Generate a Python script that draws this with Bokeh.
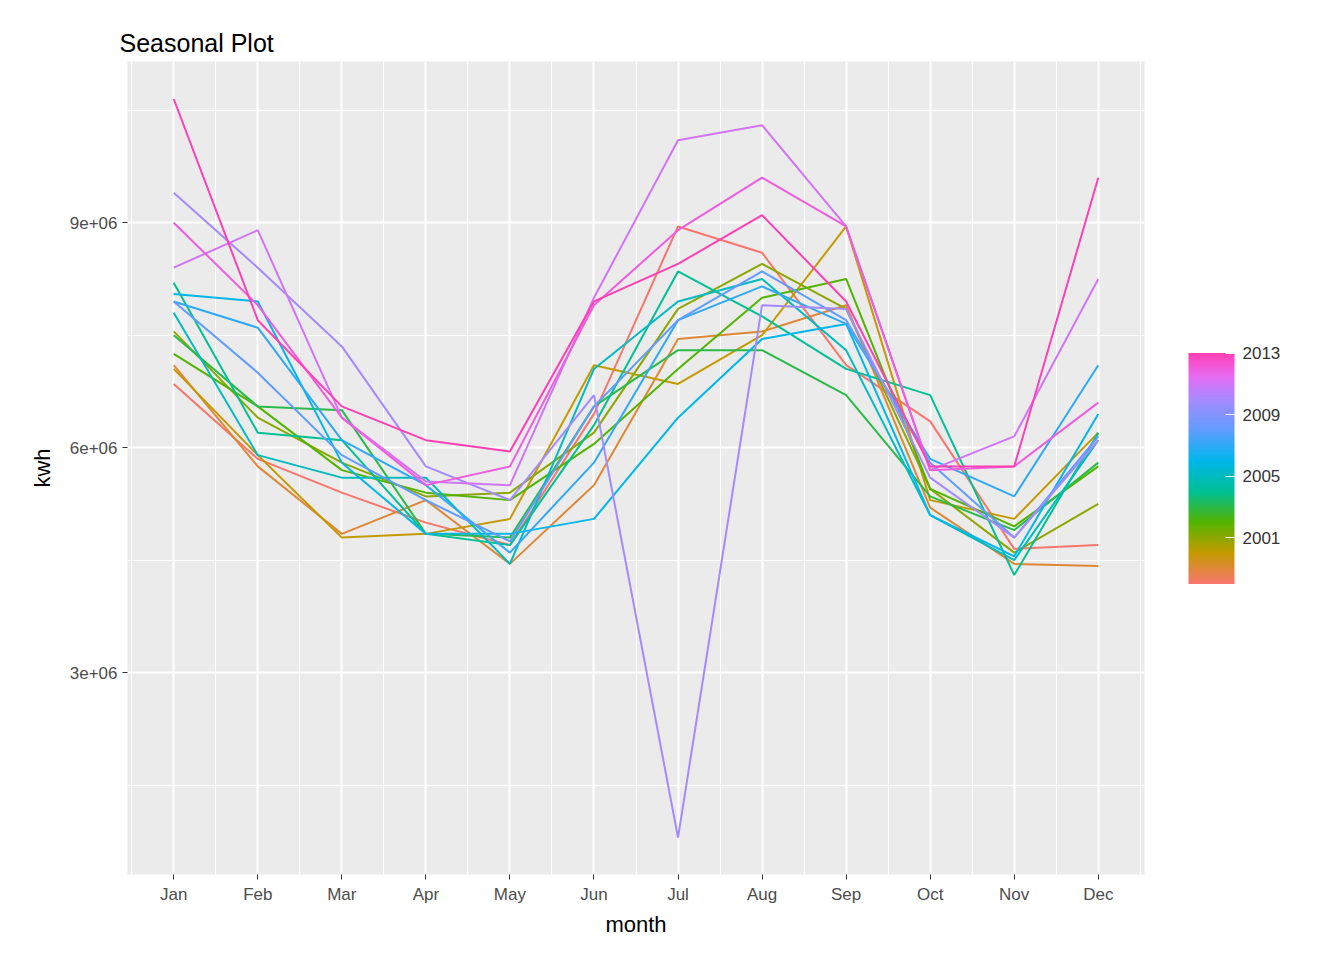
import numpy as np
from bokeh.plotting import figure
from bokeh.models import ColumnDataSource, LinearColorMapper, ColorBar, FixedTicker, Range1d
from bokeh.embed import file_html
from bokeh.resources import INLINE

months = ["Jan", "Feb", "Mar", "Apr", "May", "Jun", "Jul", "Aug", "Sep", "Oct", "Nov", "Dec"]
years = [1998, 1999, 2000, 2001, 2002, 2003, 2004, 2005, 2006, 2007, 2008, 2010, 2011, 2012, 2013]
kwh = [
    [6.85, 5.85, 5.4, 5.0, 4.7, 6.45, 8.95, 8.6, 7.1, 6.35, 4.65, 4.7],
    [7.1, 5.75, 4.85, 5.3, 4.45, 5.5, 7.45, 7.55, 7.9, 5.2, 4.45, 4.42],
    [7.05, 5.9, 4.8, 4.85, 5.05, 7.1, 6.85, 7.5, 8.95, 5.3, 5.05, 6.2],
    [7.55, 6.4, 5.8, 5.35, 5.4, 6.2, 7.85, 8.45, 7.85, 5.45, 4.6, 5.25],
    [7.25, 6.55, 5.7, 5.4, 5.3, 6.05, 7.05, 8.0, 8.25, 5.45, 4.95, 5.75],
    [7.5, 6.55, 6.5, 4.85, 4.8, 6.55, 7.3, 7.3, 6.7, 5.35, 4.9, 5.8],
    [8.2, 6.2, 6.1, 4.85, 4.7, 6.3, 8.35, 7.75, 7.05, 6.7, 4.3, 6.2],
    [7.8, 5.9, 5.6, 5.6, 4.45, 7.05, 7.95, 8.25, 7.3, 5.1, 4.5, 6.1],
    [8.05, 7.95, 5.8, 4.85, 4.85, 5.05, 6.4, 7.45, 7.65, 5.1, 4.55, 6.45],
    [7.95, 7.6, 6.1, 5.5, 4.6, 5.8, 7.7, 8.15, 7.65, 5.85, 5.35, 7.1],
    [7.95, 7.0, 5.9, 5.3, 4.75, 6.55, 7.7, 8.35, 7.7, 5.8, 4.8, 6.15],
    [9.4, 8.4, 7.35, 5.75, 5.3, 6.7, 0.8, 7.9, 7.85, 5.6, 4.8, 6.1],
    [8.4, 8.9, 6.4, 5.55, 5.5, 8.0, 10.1, 10.3, 8.95, 5.7, 6.15, 8.25],
    [9.0, 7.9, 6.4, 5.5, 5.75, 7.9, 8.9, 9.6, 8.95, 5.7, 5.75, 6.6],
    [10.65, 7.7, 6.55, 6.1, 5.95, 7.95, 8.45, 9.1, 7.95, 5.75, 5.75, 9.6],
]

# gradient anchors (position in years, colour)
anchor_years = [1998, 2000, 2002, 2004, 2006, 2008, 2010, 2011.5, 2013]
anchor_cols = ["#F8766D", "#C49A00", "#53B400", "#00C094", "#00B6EB",
               "#619CFF", "#A58AFF", "#E76BF3", "#FF40B4"]

lo, hi = 1998, 2013


def rgb(h):
    return [int(h[i:i + 2], 16) for i in (1, 3, 5)]


ar = np.array([rgb(c) for c in anchor_cols], dtype=float)
t = np.linspace(lo, hi, 256)
palette = ["#%02x%02x%02x" % tuple(int(round(np.interp(v, anchor_years, ar[:, k]))) for k in range(3))
           for v in t]
mapper = LinearColorMapper(palette=palette, low=lo, high=hi)

p = figure(width=1327, height=946, output_backend="svg", toolbar_location=None,
           x_range=Range1d(0.45, 12.55), y_range=Range1d(307000, 11150000),
           min_border_left=127, min_border_top=61, min_border_right=170, min_border_bottom=72)
p.background_fill_color = "#EBEBEB"
p.outline_line_color = None
p.border_fill_color = "white"

for yr, vals in zip(years, kwh):
    col = palette[int(round((yr - lo) / (hi - lo) * 255))]
    src = ColumnDataSource(dict(x=list(range(1, 13)), y=[v * 1e6 for v in vals]))
    p.line("x", "y", source=src, line_color=col, line_width=2)

p.title.text = "Seasonal Plot"
p.title.text_font = "Liberation Sans"
p.title.text_font_size = "25px"
p.title.text_font_style = "normal"
p.title.text_color = "black"
p.title.offset = -8

p.xaxis.ticker = FixedTicker(ticks=list(range(1, 13)), minor_ticks=[i + 0.5 for i in range(0, 13)])
p.xaxis.major_label_overrides = {i + 1: m for i, m in enumerate(months)}
p.yaxis.ticker = FixedTicker(ticks=[3e6, 6e6, 9e6], minor_ticks=[1.5e6, 4.5e6, 7.5e6, 10.5e6])
p.yaxis.major_label_overrides = {3e6: "3e+06", 6e6: "6e+06", 9e6: "9e+06"}
p.xaxis.axis_label = "month"
p.yaxis.axis_label = "kwh"
for ax in (p.xaxis, p.yaxis):
    ax.axis_line_color = None
    ax.major_tick_line_color = "#333333"
    ax.major_tick_out = 5
    ax.major_tick_in = 0
    ax.minor_tick_line_color = None
    ax.major_label_text_font = "Liberation Sans"
    ax.major_label_text_font_size = "17px"
    ax.major_label_text_color = "#4D4D4D"
    ax.axis_label_text_font = "Liberation Sans"
    ax.axis_label_text_font_size = "22px"
    ax.axis_label_text_font_style = "normal"
    ax.axis_label_text_color = "black"
p.yaxis.major_label_orientation = "horizontal"
p.yaxis.axis_label_standoff = 12

p.grid.grid_line_color = "white"
p.grid.grid_line_width = 2
p.grid.minor_grid_line_color = "white"
p.grid.minor_grid_line_width = 1

cb = ColorBar(color_mapper=mapper, width=46, height=231, location="center",
              ticker=FixedTicker(ticks=[2001, 2005, 2009, 2013]),
              major_tick_line_color="white", major_tick_in=9, major_tick_out=0,
              bar_line_color=None, padding=44, margin=0,
              label_standoff=8, major_label_text_font="Liberation Sans",
              major_label_text_font_size="17px", major_label_text_color="#333333",
              background_fill_color=None, border_line_color=None)
p.add_layout(cb, "right")

open("out.html", "w").write(file_html(p, INLINE))
